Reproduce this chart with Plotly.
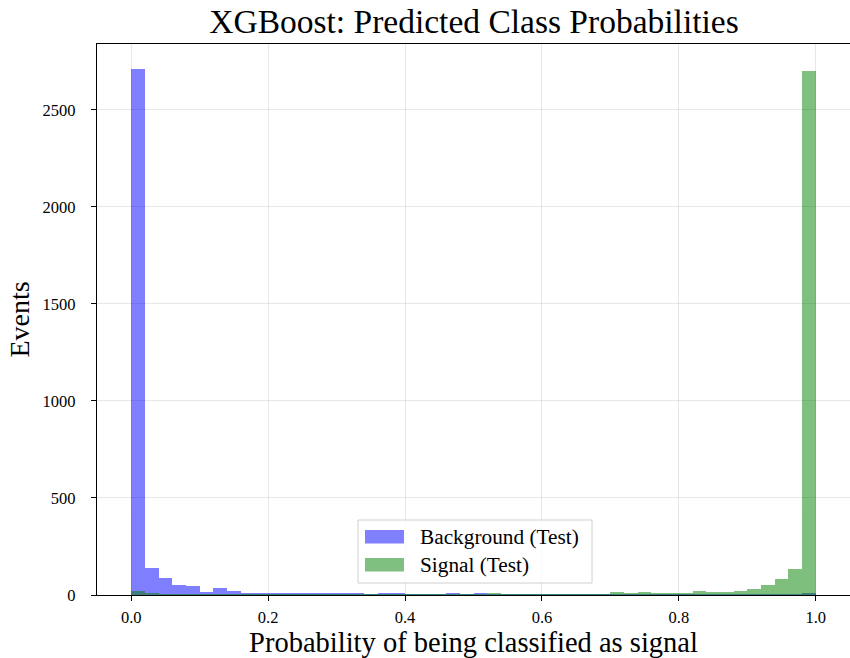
import numpy as np
import plotly.graph_objects as go

# Histogram counts per bin (50 equal bins on [0, 1])
bin_edges = np.linspace(0.0, 1.0, 51)
background_counts = [2710, 141, 87, 52, 44, 18, 34, 21, 12, 9,
                     6, 11, 12, 11, 12, 6, 12, 5, 6, 6,
                     5, 4, 3, 6, 3, 6, 2, 3, 2, 3,
                     2, 2, 3, 1, 2, 1, 2, 1, 1, 1,
                     2, 1, 1, 2, 3, 1, 3, 3, 2, 8]
signal_counts = [21, 6, 5, 4, 4, 3, 4, 3, 4, 3,
                 3, 3, 3, 3, 3, 3, 3, 3, 3, 3,
                 3, 3, 3, 3, 3, 4, 6, 4, 4, 4,
                 4, 4, 5, 5, 5, 13, 6, 13, 6, 6,
                 6, 20, 14, 15, 22, 29, 52, 81, 133, 2700]
series_names = ["Background (Test)", "Signal (Test)"]
series_colors = ["blue", "green"]

FONT = "Liberation Serif"
W, H = 850, 658
ML, MR, MT, MB = 97, 0, 44, 63
PW, PH = W - ML - MR, H - MT - MB

centers = (bin_edges[:-1] + bin_edges[1:]) / 2
widths = np.diff(bin_edges)

fig = go.Figure()
for name, counts, color in zip(series_names, [background_counts, signal_counts], series_colors):
    fig.add_trace(go.Bar(x=centers, y=counts, width=widths, name=name,
                         marker=dict(color=color, line=dict(width=0)),
                         opacity=0.5, showlegend=False))


def px(x):
    return (x - ML) / PW


def py(y):
    return (H - MB - y) / PH


# Legend frame, patches and labels
shapes = []
ax0, ax1, ay0, ay1 = px(358), px(592), py(583), py(520)
shapes.append(dict(type="rect", xref="paper", yref="paper", x0=ax0, x1=ax1, y0=ay0, y1=ay1,
                   line=dict(color="#d0d0d0", width=1), fillcolor="rgba(255,255,255,0.8)", layer="above"))
annotations = []
for i, (name, color) in enumerate(zip(series_names, series_colors)):
    top = 530 + i * 28
    shapes.append(dict(type="rect", xref="paper", yref="paper", x0=px(365), x1=px(404),
                       y0=py(top + 13.5), y1=py(top), line=dict(width=0),
                       fillcolor=color, opacity=0.5, layer="above"))
    annotations.append(dict(text=name, xref="paper", yref="paper", x=px(418), y=py(top + 7),
                            xanchor="left", yanchor="middle", showarrow=False,
                            font=dict(family=FONT, size=21.3, color="black")))

fig.update_layout(
    width=W, height=H,
    margin=dict(l=ML, r=MR, t=MT, b=MB),
    barmode="overlay", bargap=0,
    plot_bgcolor="white", paper_bgcolor="white",
    font=dict(family=FONT, size=16.5, color="black"),
    title=dict(text="XGBoost: Predicted Class Probabilities", x=px(474), xref="paper",
               xanchor="center", y=1 - 21 / H, yanchor="middle",
               font=dict(family=FONT, size=33.5, color="black")),
    shapes=shapes, annotations=annotations,
)
fig.update_xaxes(range=[-0.05, 1.05], tickvals=[0, 0.2, 0.4, 0.6, 0.8, 1.0],
                 ticktext=["0.0", "0.2", "0.4", "0.6", "0.8", "1.0"],
                 showgrid=True, gridcolor="rgba(176,176,176,0.3)", gridwidth=1,
                 showline=True, linecolor="black", linewidth=1.2, mirror=True,
                 ticks="outside", ticklen=5, tickcolor="black", zeroline=False,
                 ticklabelstandoff=2,
                 title=dict(text="Probability of being classified as signal",
                            font=dict(family=FONT, size=28.5), standoff=2))
fig.update_yaxes(range=[0, 2840], tickvals=[0, 500, 1000, 1500, 2000, 2500],
                 showgrid=True, gridcolor="rgba(176,176,176,0.3)", gridwidth=1,
                 showline=True, linecolor="black", linewidth=1.2, mirror=True,
                 ticks="outside", ticklen=5, tickcolor="black", zeroline=False,
                 ticklabelstandoff=12,
                 title=dict(text="Events", font=dict(family=FONT, size=28), standoff=4))

fig.write_html("out.html")
